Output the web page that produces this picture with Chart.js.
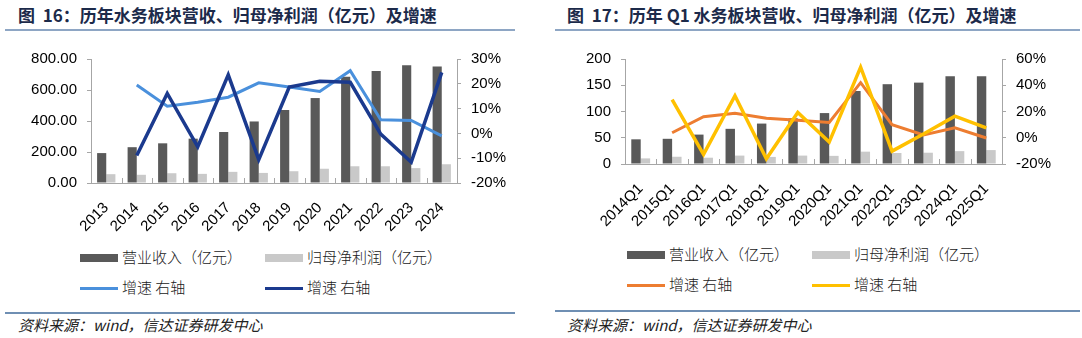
<!DOCTYPE html>
<html>
<head>
<meta charset="utf-8">
<script src="https://cdn.jsdelivr.net/npm/chart.js@4.4.1/dist/chart.umd.min.js"></script>
<style>
  body { margin: 0; width: 1082px; height: 338px; background: #fff; position: relative; overflow: hidden;
         font-family: "Noto Sans CJK SC", sans-serif; }
  .title { position: absolute; top: 4px; font-size: 17px; line-height: 22px; font-weight: bold; color: #1c2a4a; white-space: nowrap; }
  .rule { position: absolute; height: 2px; background: #8ea6c4; }
  .rule2 { position: absolute; height: 2px; background: #6f8fb3; }
  .src { position: absolute; top: 315px; font-size: 15px; line-height: 20px; font-style: italic; color: #222; white-space: nowrap; }
  canvas { position: absolute; top: 40px; }
  .lg { position: absolute; font-size: 15px; line-height: 20px; font-weight: 300; color: #222; white-space: nowrap; }
  .sw { position: absolute; }
</style>
</head>
<body>
<div class="title" style="left:18px">图&nbsp; 16：历年水务板块营收、归母净利润（亿元）及增速</div>
<div class="rule" style="left:5px;top:29px;width:510px"></div>
<div class="title" style="left:567px">图&nbsp; 17：历年 Q1 水务板块营收、归母净利润（亿元）及增速</div>
<div class="rule" style="left:555px;top:29px;width:525px"></div>

<canvas id="yearChart" width="540" height="200" style="left:0"></canvas>
<canvas id="quarterChart" width="542" height="200" style="left:540px"></canvas>

<div id="yearLegend"></div>
<div id="quarterLegend"></div>

<div class="rule2" style="left:5px;top:312px;width:510px"></div>
<div class="src" style="left:18px">资料来源：wind，信达证券研发中心</div>
<div class="rule2" style="left:555px;top:310px;width:525px"></div>
<div class="src" style="left:567px">资料来源：wind，信达证券研发中心</div>

<script>
// 图16 年度数据
var years = ['2013', '2014', '2015', '2016', '2017', '2018', '2019', '2020', '2021', '2022', '2023', '2024'];
var revenue = [193, 231, 256, 286, 329, 397, 471, 548, 685, 722, 759, 751];
var profit = [57, 53, 63, 59, 72, 65, 76, 92, 108, 108, 96, 121];
var revenueGrowth = [null, 19.5, 11, 12.6, 14.6, 20.4, 18.7, 16.9, 25.3, 5.5, 5.2, -1];
var profitGrowth = [null, -8.9, 16.1, -5.4, 23.6, -10.6, 18.7, 21, 20.6, -0.3, -11.6, 24.6];

// 图17 Q1数据
var quarters = ['2014Q1', '2015Q1', '2016Q1', '2017Q1', '2018Q1', '2019Q1', '2020Q1', '2021Q1', '2022Q1', '2023Q1', '2024Q1', '2025Q1'];
var q1Revenue = [47, 48, 56, 67, 77, 87, 97, 139, 152, 155, 167, 167];
var q1Profit = [10.7, 13.8, 12, 16, 13.5, 16, 15.5, 23.5, 21, 21.5, 24.5, 26.5];
var q1RevenueGrowth = [null, 3.8, 16, 18.6, 14.8, 13.3, 11.7, 42, 10, 2.1, 7.6, -0.2];
var q1ProfitGrowth = [null, 29, -12.6, 32, -16, 19.3, -3.3, 53.8, -10.2, 2.9, 16.4, 7.6];

var barLabels = ['营业收入（亿元）', '归母净利润（亿元）'];
var lineLabels = ['增速 右轴', '增速 右轴'];

var darkGrey = '#595959';
var lightGrey = '#c9c9c9';
var axisColor = '#a6a6a6';
var tickFont = { family: 'Liberation Sans', size: 15 };

// 类目分界处的向内小刻度
var boundaryTicks = {
    id: 'boundaryTicks',
    beforeDatasetsDraw: function (chart) {
        var x = chart.scales.x;
        var ctx = chart.ctx;
        ctx.save();
        ctx.strokeStyle = axisColor;
        ctx.lineWidth = 1;
        ctx.beginPath();
        for (var i = 1; i < x.ticks.length; i++) {
            var px = Math.round((x.getPixelForTick(i - 1) + x.getPixelForTick(i)) / 2) + 0.5;
            ctx.moveTo(px, x.top);
            ctx.lineTo(px, x.top - 5);
        }
        ctx.stroke();
        ctx.restore();
    }
};

function makeChart(canvasId, labels, bars1, bars2, line1, line2, colors, leftAxis, rightAxis, widths) {
    return new Chart(document.getElementById(canvasId), {
        type: 'bar',
        data: {
            labels: labels,
            datasets: [
                { label: barLabels[0], data: bars1, backgroundColor: darkGrey, yAxisID: 'y', order: 2,
                  categoryPercentage: 0.6, barPercentage: 1 },
                { label: barLabels[1], data: bars2, backgroundColor: lightGrey, yAxisID: 'y', order: 2,
                  categoryPercentage: 0.6, barPercentage: 1 },
                { type: 'line', label: lineLabels[0], data: line1, borderColor: colors[0], borderWidth: 3,
                  pointRadius: 0, tension: 0, yAxisID: 'y1', order: 1 },
                { type: 'line', label: lineLabels[1], data: line2, borderColor: colors[1], borderWidth: 3.5,
                  pointRadius: 0, tension: 0, yAxisID: 'y1', order: 0 }
            ]
        },
        options: {
            responsive: false,
            animation: false,
            layout: { padding: { top: 12, left: 0, right: 0, bottom: 0 } },
            plugins: {
                legend: { display: false },
                tooltip: { enabled: false }
            },
            scales: {
                x: {
                    offset: true,
                    afterFit: function (scale) { scale.height = widths.bottom; },
                    border: { color: axisColor },
                    grid: { display: false },
                    ticks: { color: '#000', font: tickFont, minRotation: 45, maxRotation: 45, padding: 8, autoSkip: false }
                },
                y: {
                    position: 'left',
                    min: leftAxis.min,
                    max: leftAxis.max,
                    afterFit: function (scale) { scale.width = widths.left; },
                    border: { color: axisColor },
                    grid: { drawOnChartArea: false, color: axisColor, tickLength: 4 },
                    ticks: { stepSize: leftAxis.step, color: '#000', font: tickFont, padding: 10,
                             callback: leftAxis.format }
                },
                y1: {
                    position: 'right',
                    min: rightAxis.min,
                    max: rightAxis.max,
                    afterFit: function (scale) { scale.width = widths.right; },
                    border: { color: axisColor },
                    grid: { drawOnChartArea: false, color: axisColor, tickLength: 4 },
                    ticks: { stepSize: rightAxis.step, color: '#000', font: tickFont, padding: 10,
                             callback: function (v) { return v + '%'; } }
                }
            }
        },
        plugins: [boundaryTicks]
    });
}

makeChart('yearChart', years, revenue, profit, revenueGrowth, profitGrowth,
    ['#4a90dc', '#1b3a8e'],
    { min: 0, max: 800, step: 200, format: function (v) { return v.toFixed(2); } },
    { min: -20, max: 30, step: 10 },
    { left: 91, right: 83, bottom: 57 });

makeChart('quarterChart', quarters, q1Revenue, q1Profit, q1RevenueGrowth, q1ProfitGrowth,
    ['#ed7d31', '#ffc000'],
    { min: 0, max: 200, step: 50, format: function (v) { return v; } },
    { min: -20, max: 60, step: 20 },
    { left: 85, right: 80, bottom: 76 });

// 图例
function buildLegend(id, left, top, colColors) {
    var el = document.getElementById(id);
    var html = '';
    var names = [barLabels[0], barLabels[1], lineLabels[0], lineLabels[1]];
    for (var i = 0; i < 4; i++) {
        var col = i % 2, row = Math.floor(i / 2);
        var x = left + col * 185;
        var y = top + row * 30;
        var isBar = row === 0;
        var h = isBar ? 8 : 3;
        html += '<div class="sw" style="left:' + x + 'px;top:' + (y - h / 2) + 'px;width:38px;height:' + h +
            'px;background:' + colColors[i] + '"></div>';
        html += '<div class="lg" style="left:' + (x + 42) + 'px;top:' + (y - 11) + 'px">' + names[i] + '</div>';
    }
    el.innerHTML = html;
}
buildLegend('yearLegend', 80, 258, [darkGrey, lightGrey, '#4a90dc', '#1b3a8e']);
buildLegend('quarterLegend', 627, 255, [darkGrey, lightGrey, '#ed7d31', '#ffc000']);
</script>
</body>
</html>
